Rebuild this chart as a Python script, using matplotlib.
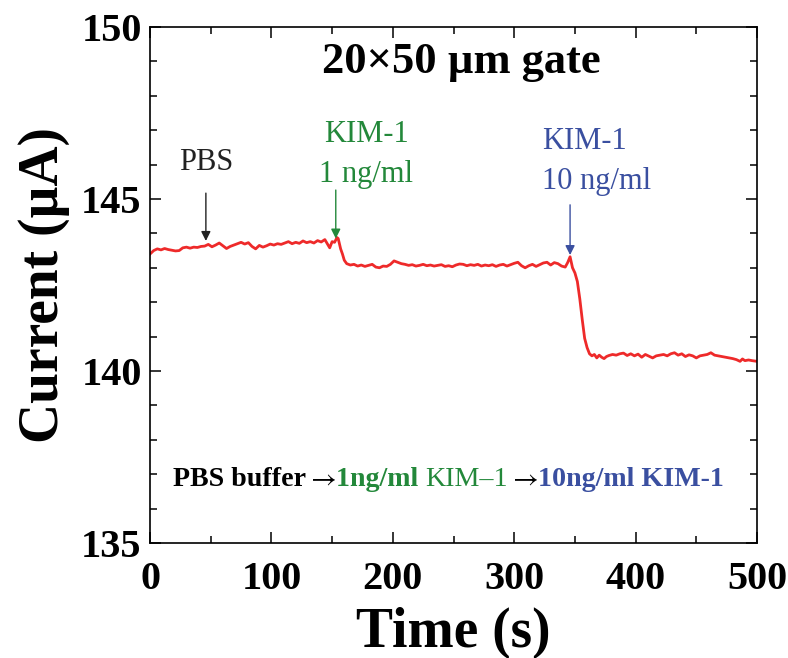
"""
Drain current response of the 20x50 um gate sensor: PBS -> 1 ng/ml -> 10 ng/ml KIM-1.
"""

import matplotlib
matplotlib.use("Agg")
import matplotlib.pyplot as plt
from matplotlib.ticker import MultipleLocator

# time (s) and drain current (uA)
time_s = [
    0, 3, 6, 9, 12, 15, 18, 21, 24, 27, 30, 33, 36, 39, 42, 45, 48, 51, 54, 57,
    60, 63, 66, 69, 72, 75, 78, 81, 84, 87, 90, 93, 96, 99, 102, 105, 108, 111,
    114, 117, 120, 123, 126, 129, 132, 135, 138, 141, 144, 146, 148, 150, 152,
    154, 155, 157, 158.5, 160, 162, 165, 168, 171, 174, 177, 180, 183, 186, 189,
    192, 195, 198, 201, 204, 207, 210, 213, 216, 219, 222, 225, 228, 231, 234,
    237, 240, 243, 246, 249, 252, 255, 258, 261, 264, 267, 270, 273, 276, 279,
    282, 285, 288, 291, 294, 297, 300, 303, 306, 309, 312, 315, 318, 321, 324,
    327, 330, 333, 336, 339, 342, 344, 346, 348, 350, 352, 354, 356, 358, 360,
    362, 364, 366, 368, 370, 372, 374, 376, 378, 381, 384, 387, 390, 393, 396,
    399, 402, 405, 408, 411, 414, 417, 420, 423, 426, 429, 432, 435, 438, 441,
    444, 447, 450, 453, 456, 459, 462, 465, 468, 471, 474, 477, 480, 483, 486,
    488, 490, 493, 496, 500,
]
current_ua = [
    143.40, 143.50, 143.55, 143.52, 143.56, 143.53, 143.51, 143.49, 143.50, 143.58,
    143.60, 143.57, 143.60, 143.59, 143.62, 143.63, 143.68, 143.61, 143.66, 143.72,
    143.64, 143.56, 143.62, 143.66, 143.70, 143.74, 143.69, 143.73, 143.62, 143.55,
    143.65, 143.60, 143.64, 143.69, 143.66, 143.70, 143.68, 143.72, 143.76, 143.70,
    143.74, 143.71, 143.78, 143.73, 143.76, 143.72, 143.79, 143.75, 143.82, 143.70,
    143.58, 143.76, 143.74, 143.88, 143.85, 143.55, 143.40, 143.22, 143.12, 143.08,
    143.10, 143.05, 143.08, 143.04, 143.07, 143.10, 143.02, 143.00, 143.05, 143.04,
    143.10, 143.20, 143.16, 143.12, 143.10, 143.07, 143.09, 143.05, 143.07, 143.10,
    143.06, 143.08, 143.05, 143.07, 143.09, 143.04, 143.06, 143.03, 143.08, 143.11,
    143.10, 143.06, 143.09, 143.07, 143.10, 143.05, 143.08, 143.06, 143.09, 143.04,
    143.08, 143.10, 143.05, 143.09, 143.13, 143.16, 143.06, 143.00, 143.06, 143.10,
    143.04, 143.09, 143.14, 143.16, 143.08, 143.15, 143.12, 143.05, 143.02, 143.15,
    143.32, 143.00, 142.85, 142.60, 142.10, 141.50, 140.95, 140.68, 140.50, 140.44,
    140.48, 140.38, 140.46, 140.40, 140.36, 140.42, 140.45, 140.48, 140.46, 140.50,
    140.52, 140.45, 140.50, 140.44, 140.49, 140.40, 140.48, 140.43, 140.38, 140.44,
    140.46, 140.48, 140.44, 140.50, 140.53, 140.46, 140.50, 140.42, 140.47, 140.44,
    140.38, 140.44, 140.46, 140.48, 140.53, 140.46, 140.44, 140.42, 140.40, 140.38,
    140.36, 140.33, 140.28, 140.35, 140.30, 140.32, 140.30, 140.28,
]

GREEN = "#23883a"
BLUE = "#3a4fa0"
SERIF = ["Liberation Serif", "DejaVu Serif"]

plt.rcParams["font.family"] = SERIF
plt.rcParams["mathtext.fontset"] = "stix"

fig = plt.figure(figsize=(7.88, 6.58), dpi=100)
ax = fig.add_axes([0.1904, 0.1748, 0.7703, 0.7842])

ax.plot(time_s, current_ua, color="#ee2a2a", lw=2.0)

ax.set_xlim(0, 500)
ax.set_ylim(135, 150)
ax.xaxis.set_major_locator(MultipleLocator(100))
ax.xaxis.set_minor_locator(MultipleLocator(50))
ax.yaxis.set_major_locator(MultipleLocator(5))
ax.yaxis.set_minor_locator(MultipleLocator(1))
ax.tick_params(which="both", direction="in", top=True, right=True, width=1.1)
ax.tick_params(which="major", length=8, labelsize=29)
ax.tick_params(axis="x", which="major", pad=13)
ax.tick_params(axis="y", which="major", pad=6)
ax.tick_params(which="minor", length=5)
for lab in ax.get_xticklabels() + ax.get_yticklabels():
    lab.set_fontweight("bold")
for sp in ax.spines.values():
    sp.set_linewidth(1.2)

ax.set_xlabel("Time (s)", fontsize=40, fontweight="bold", labelpad=6)
ax.set_ylabel("Current (\u00b5A)", fontsize=40, fontweight="bold", labelpad=8)

ax.text(256, 148.98, "20\u00d750 \u00b5m gate", fontsize=32, fontweight="bold",
        ha="center", va="center")

# arrows and labels for each injection
def mark(x, y_top, y_tip, color):
    ax.annotate("", xy=(x, y_tip), xytext=(x, y_top),
                arrowprops=dict(arrowstyle="-|>", color=color, lw=1.0,
                                mutation_scale=14, shrinkA=0, shrinkB=0))

ax.text(46, 146.05, "PBS", fontsize=22, color="#222222", ha="center", va="center")
mark(46, 145.17, 143.78, "#222222")

ax.text(178, 146.86, "KIM-1", fontsize=22, color=GREEN, ha="center", va="center")
ax.text(178, 145.70, "1 ng/ml", fontsize=22, color=GREEN, ha="center", va="center")
mark(153, 145.26, 143.85, GREEN)

ax.text(358, 146.66, "KIM-1", fontsize=22, color=BLUE, ha="center", va="center")
ax.text(368, 145.52, "10 ng/ml", fontsize=22, color=BLUE, ha="center", va="center")
mark(346, 144.83, 143.37, BLUE)

# multi-coloured sequence line, laid out piece by piece
pieces = [
    ("PBS buffer", "black", "bold"),
    (r"$\rightarrow$", "black", "normal"),
    ("1ng/ml ", GREEN, "bold"),
    ("KIM\u20131", GREEN, "normal"),
    (r"$\rightarrow$", "black", "normal"),
    ("10ng/ml KIM-1", BLUE, "bold"),
]
fig.canvas.draw()
renderer = fig.canvas.get_renderer()
x_px, y_px = ax.transData.transform((19, 136.66))
for txt, col, wt in pieces:
    t = fig.text(x_px / fig.dpi / fig.get_figwidth(), y_px / fig.dpi / fig.get_figheight(),
                 txt, fontsize=20.2, color=col, fontweight=wt, ha="left", va="baseline")
    x_px += t.get_window_extent(renderer).width

fig.savefig("out.png", dpi=100)
